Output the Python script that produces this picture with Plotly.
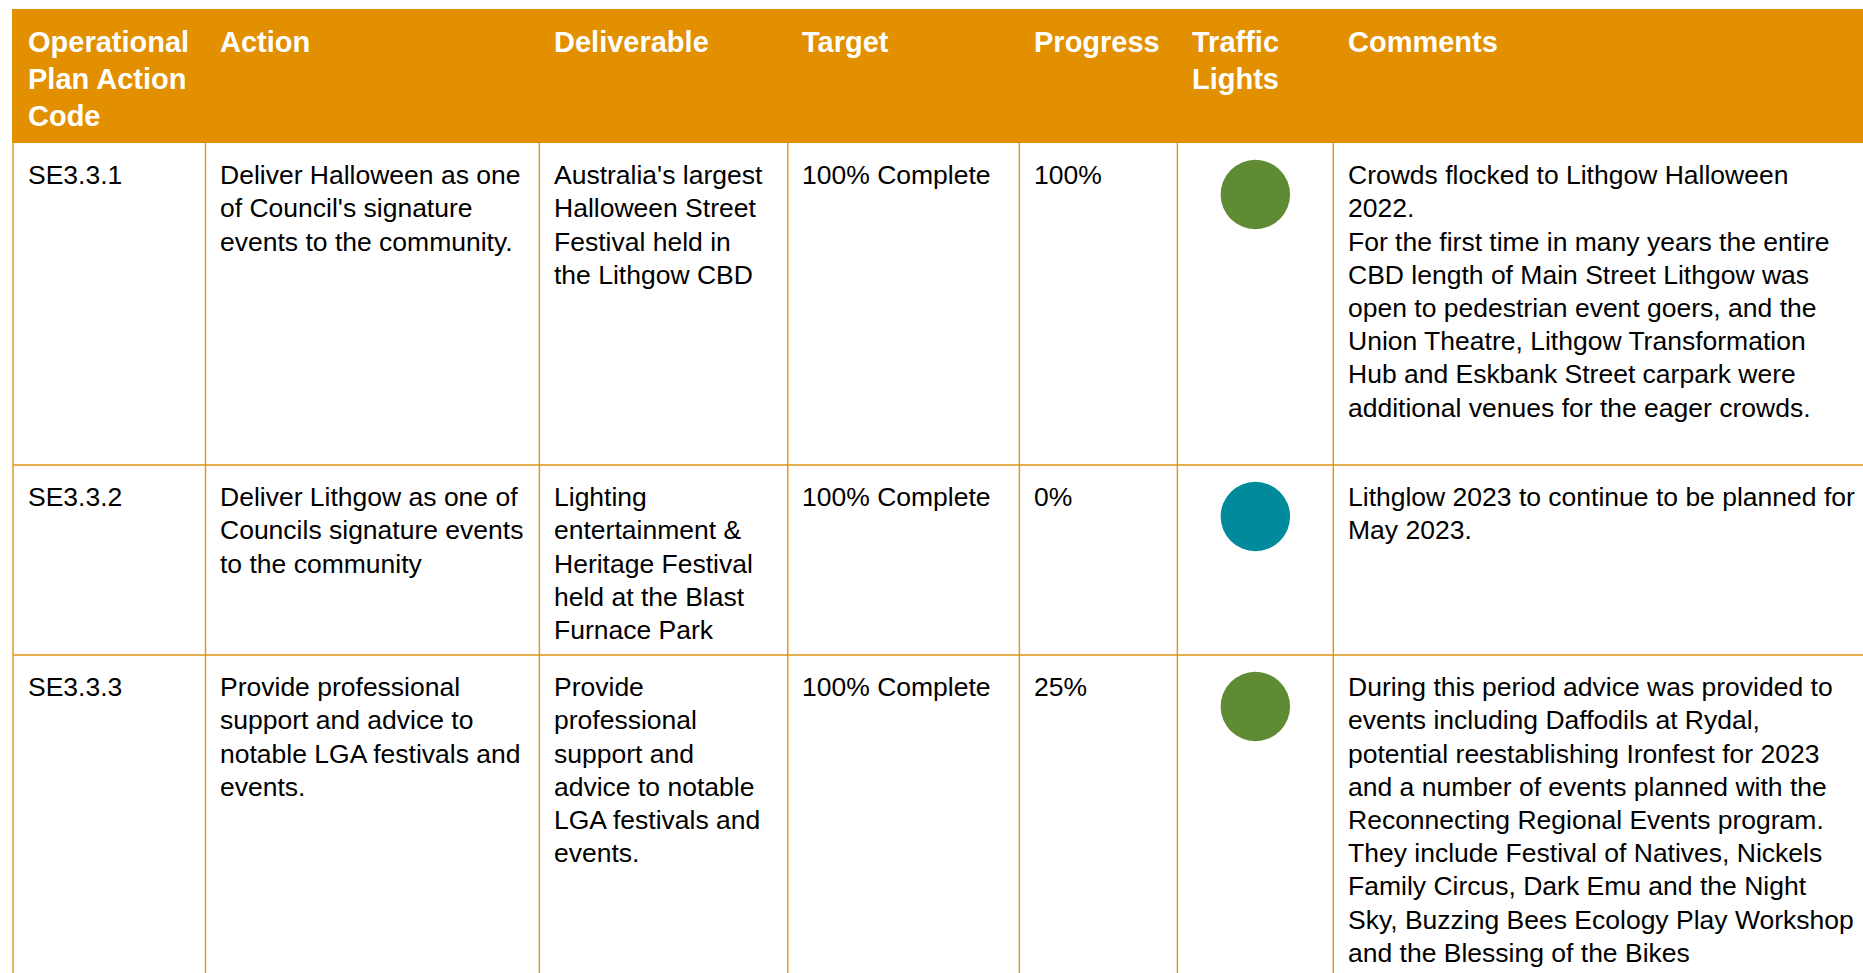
import plotly.graph_objects as go

# ---------------- data ----------------
headers = [
    ["Operational", "Plan Action", "Code"],
    ["Action"],
    ["Deliverable"],
    ["Target"],
    ["Progress"],
    ["Traffic", "Lights"],
    ["Comments"],
]

codes = ["SE3.3.1", "SE3.3.2", "SE3.3.3"]

actions = [
    ["Deliver Halloween as one", "of Council's signature", "events to the community."],
    ["Deliver Lithgow as one of", "Councils signature events", "to the community"],
    ["Provide professional", "support and advice to", "notable LGA festivals and", "events."],
]

deliverables = [
    ["Australia's largest", "Halloween Street", "Festival held in", "the Lithgow CBD"],
    ["Lighting", "entertainment &", "Heritage Festival", "held at the Blast", "Furnace Park"],
    ["Provide", "professional", "support and", "advice to notable", "LGA festivals and", "events."],
]

targets = ["100% Complete", "100% Complete", "100% Complete"]
progress = ["100%", "0%", "25%"]
traffic_status = ["On track", "Not started", "On track"]

comments = [
    ["Crowds flocked to Lithgow Halloween", "2022.",
     "For the first time in many years the entire",
     "CBD length of Main Street Lithgow was",
     "open to pedestrian event goers, and the",
     "Union Theatre, Lithgow Transformation",
     "Hub and Eskbank Street carpark were",
     "additional venues for the eager crowds."],
    ["Lithglow 2023 to continue to be planned for", "May 2023."],
    ["During this period advice was provided to",
     "events including Daffodils at Rydal,",
     "potential reestablishing Ironfest for 2023",
     "and a number of events planned with the",
     "Reconnecting Regional Events program.",
     "They include Festival of Natives, Nickels",
     "Family Circus, Dark Emu and the Night",
     "Sky, Buzzing Bees Ecology Play Workshop",
     "and the Blessing of the Bikes"],
]

# ---------------- layout / style ----------------
W, H = 1863, 973
col_edges = [13, 205.5, 539.4, 787.8, 1019.4, 1177.4, 1333.3, 1863]
header_top, header_bottom = 9, 143
row_tops = [143, 465, 655]

ORANGE = "#E39000"
LINE = "#DD9418"
status_colors = {"On track": "#5F8B34", "Not started": "#008A9B"}
FONT = "Arial, Liberation Sans, sans-serif"
body_size = 26.5
head_size = 29
body_lh = 33.2
head_lh = 37
pad = 12.5
text_off = 32.2
head_first = 42.3
light_off = 51.5

fig = go.Figure()

shapes = []
# header band
shapes.append(dict(type="rect", xref="x", yref="y", x0=col_edges[0] - 1, x1=W + 5,
                   y0=header_top, y1=header_bottom, fillcolor=ORANGE, line=dict(width=0),
                   layer="below"))
# vertical lines
for xe in col_edges[:-1]:
    shapes.append(dict(type="line", xref="x", yref="y", x0=xe, x1=xe,
                       y0=header_bottom, y1=H + 5, line=dict(color=LINE, width=1.4)))
# horizontal row separators
for yt in row_tops[1:]:
    shapes.append(dict(type="line", xref="x", yref="y", x0=col_edges[0], x1=W + 5,
                       y0=yt, y1=yt, line=dict(color=LINE, width=1.4)))

annotations = []


def add_lines(lines, x, y0, lh, size, color, bold=False):
    for i, ln in enumerate(lines):
        txt = f"<b>{ln}</b>" if bold else ln
        annotations.append(dict(x=x, y=y0 + i * lh, xref="x", yref="y", text=txt,
                                showarrow=False, xanchor="left", yanchor="middle",
                                align="left",
                                font=dict(family=FONT, size=size, color=color)))


for c, lines in enumerate(headers):
    add_lines(lines, col_edges[c] + pad, head_first, head_lh, head_size, "white", bold=True)

for r in range(len(codes)):
    y0 = row_tops[r] + text_off
    cells = [[codes[r]], actions[r], deliverables[r], [targets[r]], [progress[r]], [], comments[r]]
    for c, lines in enumerate(cells):
        add_lines(lines, col_edges[c] + pad, y0, body_lh, body_size, "#000000")

# traffic lights
light_x = [(col_edges[5] + col_edges[6]) / 2] * len(codes)
light_y = [rt + light_off for rt in row_tops]
fig.add_trace(go.Scatter(
    x=light_x, y=light_y, mode="markers",
    marker=dict(size=69.5, color=[status_colors[s] for s in traffic_status],
                line=dict(width=0)),
    hoverinfo="skip", showlegend=False, cliponaxis=False))

fig.update_layout(
    width=W, height=H, margin=dict(l=0, r=0, t=0, b=0),
    paper_bgcolor="white", plot_bgcolor="white",
    xaxis=dict(range=[0, W], visible=False, fixedrange=True),
    yaxis=dict(range=[H, 0], visible=False, fixedrange=True),
    shapes=shapes, annotations=annotations, showlegend=False,
)

fig.write_html("out.html",
               post_script="document.body.style.margin='0';document.body.style.overflow='hidden';",
               config={"displayModeBar": False})
